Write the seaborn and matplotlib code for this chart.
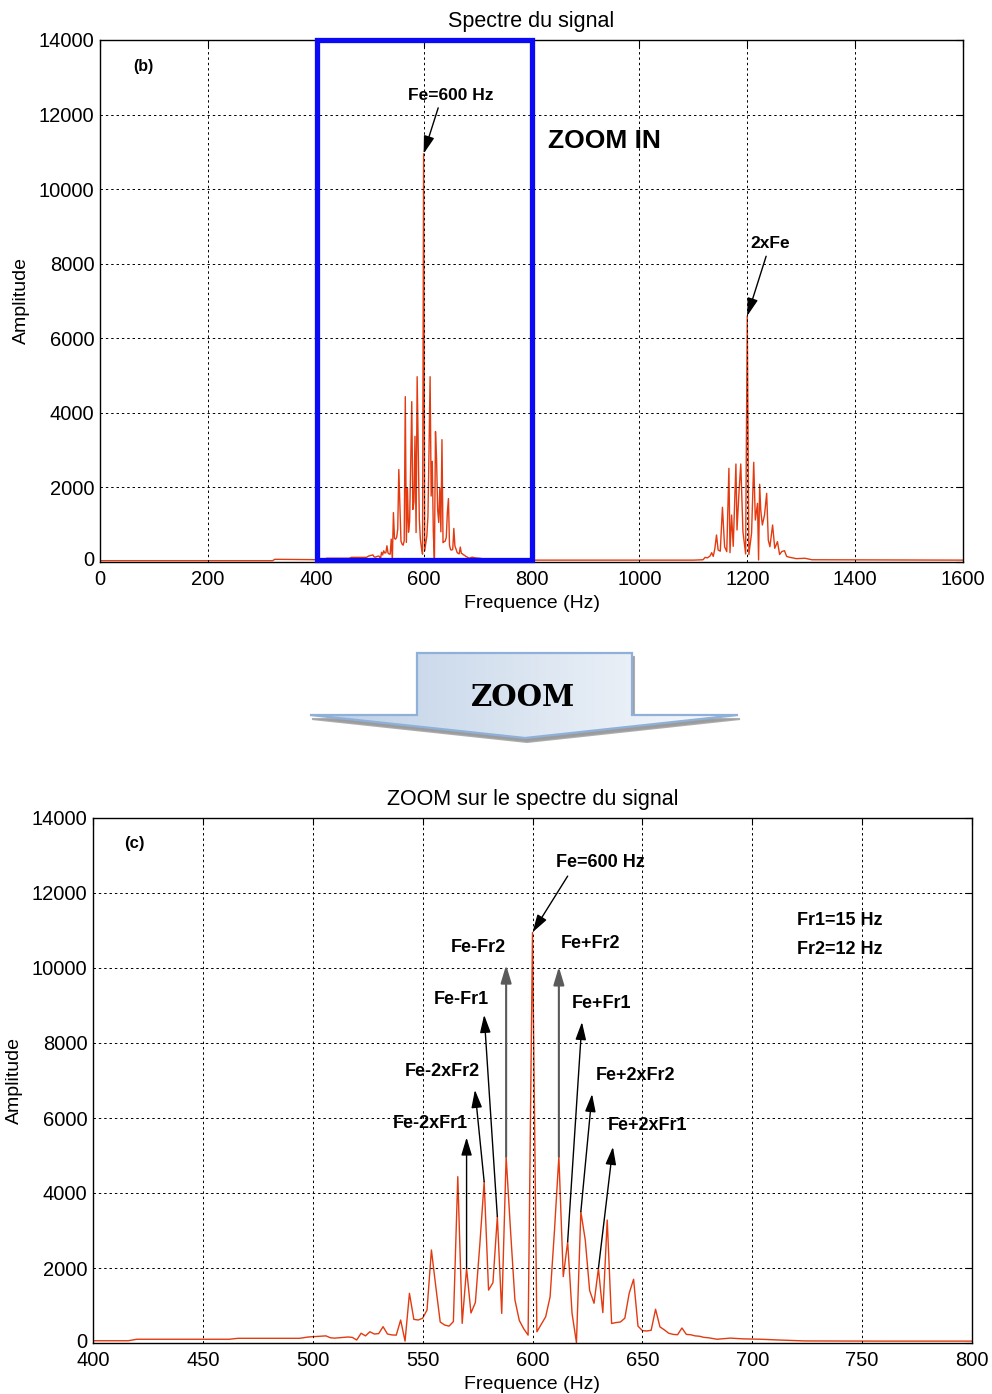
import numpy as np
import pandas as pd
import matplotlib
matplotlib.use("Agg")
import matplotlib.pyplot as plt
import matplotlib.transforms as mtransforms
import seaborn as sns
from matplotlib.patches import Rectangle, Polygon
from matplotlib.colors import LinearSegmentedColormap

# ---- spectrum data (frequency in Hz, amplitude) ----
# band around Fe = 600 Hz
freq_fe = [400, 416, 420, 462, 466, 494, 498, 506, 508, 510, 516, 518,
           520, 522, 524, 526, 528, 530, 532, 534, 536, 538,
           540, 542, 544, 546, 548, 550, 552, 554, 556, 558,
           560, 562, 564, 566, 568, 570, 572, 574, 576, 578,
           580, 582, 584, 586, 588, 590, 592, 594, 596, 598,
           600, 602, 604, 606, 608, 610, 612, 614, 616, 618,
           620, 622, 624, 626, 628, 630, 632, 634, 636, 638,
           640, 642, 644, 646, 648, 650, 652, 654, 656, 658,
           660, 662, 664, 666, 668, 670, 672, 674, 676, 678, 680,
           684, 690, 696, 704, 712, 724, 760, 800]
amp_fe = [60, 60, 100, 100, 125, 125, 160, 190, 140, 130, 160, 150,
          80, 260, 190, 300, 240, 250, 435, 240, 215, 210,
          613, 50, 1325, 630, 613, 660, 880, 2480, 1500, 560,
          480, 450, 570, 4435, 525, 1990, 800, 1080, 2600, 4300,
          1410, 1610, 3370, 790, 4970, 3000, 1150, 600, 380, 210,
          10950, 300, 500, 700, 1230, 3000, 4970, 1770, 2700, 790,
          10, 3500, 2750, 1400, 1060, 1990, 810, 3280, 520, 545,
          560, 660, 1325, 1700, 450, 330, 320, 340, 900, 430,
          350, 260, 230, 220, 400, 230, 220, 190, 180, 150, 140,
          100, 130, 110, 100, 80, 55, 50, 50]

# low-frequency floor below the Fe band
freq_low = [0, 320, 324]
amp_low = [35, 35, 72]

# band around 2xFe = 1200 Hz
freq_2fe = [1100, 1118, 1122, 1126, 1131, 1134, 1137, 1140, 1143, 1146,
            1150, 1154, 1158, 1162, 1166, 1168, 1171, 1174, 1179, 1181,
            1185, 1188, 1192, 1197, 1200, 1203, 1208, 1212, 1215, 1219,
            1221, 1223, 1225, 1228, 1232, 1236, 1239, 1242, 1247, 1251,
            1256, 1260, 1264, 1269, 1273, 1279, 1291, 1307, 1320, 1600]
amp_2fe = [50, 60, 125, 110, 160, 250, 150, 367, 724, 322,
           290, 1467, 410, 277, 2513, 250, 1260, 420, 2628, 858,
           1950, 2628, 813, 215, 6600, 200, 770, 2674, 1126, 1573,
           54, 2084, 1395, 992, 1260, 1842, 590, 410, 992, 367,
           545, 200, 280, 304, 150, 125, 90, 100, 60, 50]

x_ticks_full = [0, 200, 400, 600, 800, 1000, 1200, 1400, 1600]
x_ticks_zoom = [400, 450, 500, 550, 600, 650, 700, 750, 800]
y_ticks = [0, 2000, 4000, 6000, 8000, 10000, 12000, 14000]

full = pd.DataFrame({"freq": freq_low + freq_fe + freq_2fe,
                     "amp": amp_low + amp_fe + amp_2fe})
zoom = pd.DataFrame({"freq": freq_fe, "amp": amp_fe})
amp_at = dict(zip(freq_fe, amp_fe))

# ---- style ----
sns.set_style("white")
plt.rcParams["font.family"] = ["Liberation Sans", "DejaVu Sans"]
plt.rcParams["text.color"] = "black"
plt.rcParams["axes.labelcolor"] = "black"
plt.rcParams["axes.titlecolor"] = "black"

LINE = "#e33a10"
W, H = 992, 1394
fig = plt.figure(figsize=(W / 100, H / 100), dpi=100)


def px_axes(x0, y0, x1, y1):
    return fig.add_axes([x0 / W, 1 - y1 / H, (x1 - x0) / W, (y1 - y0) / H])


def style_axes(ax, xticks, xlim):
    ax.set_xlim(*xlim)
    ax.set_ylim(0, 14000)
    ax.set_xticks(xticks)
    ax.set_yticks(y_ticks)
    ax.grid(True, color="black", linestyle=(0, (2.5, 3)), linewidth=0.7)
    ax.set_axisbelow(False)
    for s in ax.spines.values():
        s.set_color("black")
        s.set_linewidth(1.0)
        s.set_visible(True)
    ax.tick_params(direction="in", length=5, width=0.8, top=True, right=True,
                   labelsize=14.5, colors="black", pad=6)
    ax.tick_params(axis="y", pad=4)
    ax.set_xlabel("Frequence (Hz)", fontsize=14, labelpad=4, color="black")
    ax.set_ylabel("Amplitude", fontsize=14, labelpad=6, color="black")
    # lift the "0" label a little so it clears the first x tick label
    lift = mtransforms.ScaledTranslation(0, 3 / 100, fig.dpi_scale_trans)
    lbl = ax.get_yticklabels()[0]
    lbl.set_transform(lbl.get_transform() + lift)


def arrow(ax, start, tip, color="black", lw=1.0):
    ax.annotate("", xy=tip, xytext=start,
                arrowprops=dict(arrowstyle="-|>,head_length=0.6,head_width=0.18",
                                color=color, lw=lw, shrinkA=0, shrinkB=0,
                                mutation_scale=18))


BOLD = dict(fontweight="bold", ha="center", va="center", color="black")

# ---- full spectrum ----
ax1 = px_axes(100, 40, 963, 562)
sns.lineplot(data=full, x="freq", y="amp", ax=ax1, color=LINE, linewidth=1.0,
             estimator=None, sort=True)
style_axes(ax1, x_ticks_full, (0, 1600))
ax1.set_title("Spectre du signal", fontsize=15.5, pad=9, color="black")
ax1.add_patch(Rectangle((403, 60), 397, 13940, fill=False, edgecolor="#0a0af5",
                        linewidth=3.8, joinstyle="miter", clip_on=False, zorder=5))
ax1.text(80, 13280, "(b)", fontsize=11.5, **BOLD)
ax1.text(651, 12500, "Fe=600 Hz", fontsize=12.5, **BOLD)
arrow(ax1, (627, 12180), (600, amp_at[600]))
ax1.text(1242, 8530, "2xFe", fontsize=12.5, **BOLD)
arrow(ax1, (1235, 8200), (1200, 6600))
ax1.text(936, 11290, "ZOOM IN", fontsize=19, **BOLD)

# ---- zoomed spectrum ----
ax2 = px_axes(93, 818, 972, 1343)
sns.lineplot(data=zoom, x="freq", y="amp", ax=ax2, color=LINE, linewidth=1.0,
             estimator=None, sort=True)
style_axes(ax2, x_ticks_zoom, (400, 800))
ax2.set_title("ZOOM sur le spectre du signal", fontsize=15.5, pad=9, color="black")
ax2.text(419, 13310, "(c)", fontsize=12, **BOLD)
ax2.text(631, 12800, "Fe=600 Hz", fontsize=13, **BOLD)
arrow(ax2, (616, 12450), (600, amp_at[600]))
ax2.text(740, 11260, "Fr1=15 Hz", fontsize=13, **BOLD)
ax2.text(740, 10480, "Fr2=12 Hz", fontsize=13, **BOLD)

# sideband labels: (text, text position, source peak, arrow tip, vertical?)
sidebands = [
    ("Fe-Fr2", (575.5, 10540), 588, (588, 10080), True),
    ("Fe+Fr2", (626.5, 10640), 612, (612, 10030), True),
    ("Fe-Fr1", (567.5, 9170), 584, (578, 8750), False),
    ("Fe+Fr1", (631.5, 9040), 616, (622.5, 8560), False),
    ("Fe-2xFr2", (559, 7230), 578, (573.8, 6750), False),
    ("Fe+2xFr2", (647, 7120), 622, (627.1, 6640), False),
    ("Fe-2xFr1", (553.5, 5840), 570, (570, 5480), False),
    ("Fe+2xFr1", (652.5, 5810), 630, (636.6, 5230), False),
]
for label, pos, f0, tip, vertical in sidebands:
    ax2.text(pos[0], pos[1], label, fontsize=13, **BOLD)
    if vertical:
        arrow(ax2, (f0, amp_at[f0]), tip, color="#5a5a5a", lw=1.5)
    else:
        arrow(ax2, (f0, amp_at[f0]), tip)

# ---- block arrow between the two panels ----
ov = fig.add_axes([0, 0, 1, 1], zorder=10)
ov.set_xlim(0, W)
ov.set_ylim(H, 0)
ov.axis("off")
shape = [(417, 653), (632, 653), (632, 715), (738, 715), (525, 738),
         (310, 715), (417, 715)]
shadow = Polygon([(x + 2, y + 4) for x, y in shape], closed=True,
                 facecolor="#8a8a8a", edgecolor="#a0a0a0", lw=1.5, alpha=0.85,
                 zorder=1)
ov.add_patch(shadow)
body = Polygon(shape, closed=True, facecolor="white", edgecolor="none", zorder=2)
ov.add_patch(body)
grad = LinearSegmentedColormap.from_list("g", ["#bccfe6", "#dbe5f1", "#f8fafd"])
img = ov.imshow(np.linspace(0, 1, 256).reshape(1, -1), cmap=grad, aspect="auto",
                extent=(310, 738, 740, 652), interpolation="bilinear", zorder=3)
img.set_clip_path(body)
ov.add_patch(Polygon(shape, closed=True, facecolor="none", edgecolor="#8fb0d8",
                     lw=1.6, joinstyle="miter", zorder=4))
ov.set_xlim(0, W)
ov.set_ylim(H, 0)
ov.text(523, 698, "ZOOM", fontsize=21, fontweight="bold", family="DejaVu Serif",
        ha="center", va="center", color="black", zorder=5)

fig.savefig("out.png", dpi=100)
